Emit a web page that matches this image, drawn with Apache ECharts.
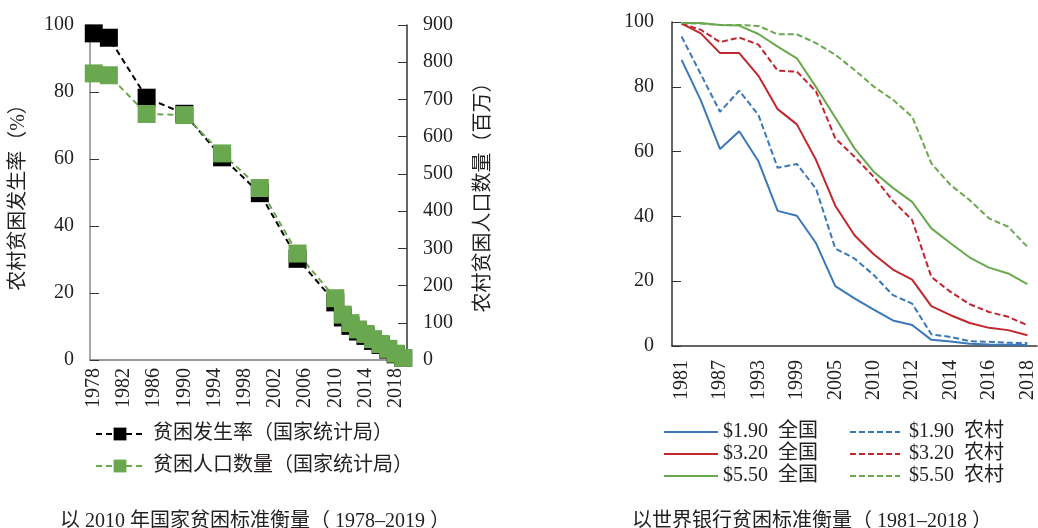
<!DOCTYPE html>
<html>
<head>
<meta charset="utf-8">
<script src="https://cdn.jsdelivr.net/npm/echarts@6/dist/echarts.min.js"></script>
<style>html,body{margin:0;padding:0;background:#fff}#main{width:1038px;height:528px}</style>
</head>
<body>
<div id="main"></div>
<script>
// left panel: national statistics bureau, 2010 standard
var allYears = ['1978','1979','1980','1981','1982','1983','1984','1985','1986','1987','1988','1989','1990',
  '1991','1992','1993','1994','1995','1996','1997','1998','1999','2000','2001','2002','2003','2004','2005',
  '2006','2007','2008','2009','2010','2011','2012','2013','2014','2015','2016','2017','2018','2019'];
var obsYears = ['1978','1980','1985','1990','1995','2000','2005','2010','2011','2012','2013','2014','2015','2016','2017','2018','2019'];
var incidence = [97.5, 96.2, 78.3, 73.5, 60.5, 49.8, 30.2, 17.2, 12.7, 10.2, 8.5, 7.2, 5.7, 4.5, 3.1, 1.7, 0.6];
var population = [770, 765, 661, 658, 555, 462, 286, 166, 122, 99, 82, 70, 56, 43, 30, 17, 5.5];

// right panel: world bank lines
var wbYears = ['1981','1984','1987','1990','1993','1996','1999','2002','2005','2008','2010','2011','2012','2013','2014','2015','2016','2017','2018'];
var nat190 = [88.3, 75.8, 60.8, 66.3, 57.0, 41.7, 40.2, 31.7, 18.5, 14.7, 11.2, 7.9, 6.5, 1.9, 1.4, 0.7, 0.5, 0.4, 0.3];
var rur190 = [95.5, 83.9, 72.3, 78.8, 71.3, 55.0, 56.2, 48.5, 30.1, 27.0, 21.9, 15.7, 13.1, 3.6, 2.8, 1.5, 1.3, 1.0, 0.9];
var nat320 = [99.5, 96.5, 90.4, 90.4, 83.4, 73.1, 68.4, 57.4, 43.3, 34.2, 28.3, 23.6, 20.5, 12.3, 9.5, 7.1, 5.6, 4.9, 3.3];
var rur320 = [99.5, 97.6, 93.8, 95.2, 93.0, 85.0, 84.7, 78.5, 64.1, 58.4, 52.2, 44.8, 38.9, 21.3, 16.7, 12.9, 10.5, 9.0, 6.4];
var nat550 = [99.7, 99.7, 99.1, 98.9, 96.3, 92.4, 88.8, 79.9, 70.5, 61.0, 53.8, 48.8, 44.5, 36.3, 31.7, 27.3, 24.2, 22.4, 19.1];
var rur550 = [99.7, 99.5, 99.1, 99.1, 98.8, 96.2, 96.2, 93.5, 89.9, 85.2, 80.1, 76.0, 70.8, 56.4, 49.7, 45.0, 39.4, 36.8, 30.6];

var FONT = "'Liberation Serif', 'Noto Sans CJK SC', serif";
var TXT = '#231f20';
var BLUE = '#3a78b8', RED = '#c1272d', GREEN = '#6aa84f';

function pairs(xs, ys) {
    return xs.map(function (x, i) { return [x, ys[i]]; });
}

var myChart = echarts.init(document.getElementById('main'));

function wbLine(name, data, color, dashed) {
    return {
        name: name,
        type: 'line',
        xAxisIndex: 1,
        yAxisIndex: 2,
        data: data,
        symbol: 'none',
        color: color,
        lineStyle: { width: 2, color: color, type: dashed ? [6, 3] : 'solid' }
    };
}

option = {
    backgroundColor: '#fff',
    animation: false,
    textStyle: { fontFamily: FONT, color: TXT },
    title: [
        { text: '以 2010 年国家贫困标准衡量（ 1978–2019 ）', left: 250, top: 507, textAlign: 'center',
          textStyle: { fontFamily: FONT, fontWeight: 'normal', fontSize: 20, color: TXT } },
        { text: '以世界银行贫困标准衡量（ 1981–2018 ）', left: 807, top: 507, textAlign: 'center',
          textStyle: { fontFamily: FONT, fontWeight: 'normal', fontSize: 20, color: TXT } }
    ],
    legend: [
        {
            left: 90, top: 419, orient: 'vertical', itemWidth: 48, itemHeight: 16, itemGap: 12,
            data: ['贫困发生率（国家统计局）', '贫困人口数量（国家统计局）'],
            textStyle: { fontFamily: FONT, fontSize: 20, color: TXT, padding: [0, 0, 0, 4] }
        },
        {
            left: 658, top: 417, orient: 'vertical', itemWidth: 54, itemHeight: 14, itemGap: 2,
            data: ['$1.90  全国', '$3.20  全国', '$5.50  全国'],
            itemStyle: { opacity: 0 },
            textStyle: { fontFamily: FONT, fontSize: 20, color: TXT }
        },
        {
            left: 844, top: 417, orient: 'vertical', itemWidth: 50, itemHeight: 14, itemGap: 2,
            data: ['$1.90  农村', '$3.20  农村', '$5.50  农村'],
            itemStyle: { opacity: 0 },
            textStyle: { fontFamily: FONT, fontSize: 20, color: TXT, padding: [0, 0, 0, 4] }
        }
    ],
    grid: [
        { left: 90, top: 25, right: 631, bottom: 168 },
        { left: 672, top: 22, right: 1, bottom: 182 }
    ],
    xAxis: [
        {
            type: 'category', gridIndex: 0, data: allYears, boundaryGap: true,
            axisLine: { lineStyle: { color: '#777', width: 1.5 } },
            axisTick: { inside: true, interval: 3, alignWithLabel: true, length: 9, lineStyle: { color: '#333' } },
            axisLabel: { interval: 3, rotate: 90, margin: 8, fontSize: 20, color: TXT, fontFamily: FONT },
            splitLine: { show: false }
        },
        {
            type: 'category', gridIndex: 1, data: wbYears, boundaryGap: true,
            axisLine: { lineStyle: { color: '#333', width: 1.5 } },
            axisTick: { inside: true, interval: 1, alignWithLabel: true, length: 9, lineStyle: { color: '#333' } },
            axisLabel: { interval: 1, rotate: 90, margin: 14, fontSize: 20, color: TXT, fontFamily: FONT },
            splitLine: { show: false }
        }
    ],
    yAxis: [
        {
            type: 'value', gridIndex: 0, position: 'left', min: 0, max: 100, interval: 20,
            name: '农村贫困发生率（%）', nameLocation: 'middle', nameRotate: 90, nameGap: 61,
            nameTextStyle: { fontSize: 20, color: TXT, fontFamily: FONT },
            axisLine: { show: true, lineStyle: { color: '#888', width: 1.5 } },
            axisTick: { show: true, inside: true, length: 9, lineStyle: { color: '#333' } },
            axisLabel: { margin: 16, fontSize: 20, color: TXT, fontFamily: FONT },
            splitLine: { show: false }
        },
        {
            type: 'value', gridIndex: 0, position: 'right', min: 0, max: 900, interval: 100,
            name: '农村贫困人口数量（百万）', nameLocation: 'middle', nameRotate: 90, nameGap: 67,
            nameTextStyle: { fontSize: 20, color: TXT, fontFamily: FONT },
            axisLine: { show: true, lineStyle: { color: '#333', width: 1.5 } },
            axisTick: { show: true, inside: true, length: 9, lineStyle: { color: '#333' } },
            axisLabel: { margin: 16, fontSize: 20, color: TXT, fontFamily: FONT },
            splitLine: { show: false }
        },
        {
            type: 'value', gridIndex: 1, min: 0, max: 100, interval: 20,
            axisLine: { show: true, lineStyle: { color: '#333', width: 1.5 } },
            axisTick: { show: true, inside: true, length: 9, lineStyle: { color: '#333' } },
            axisLabel: { margin: 18, fontSize: 20, color: TXT, fontFamily: FONT },
            splitLine: { show: false }
        }
    ],
    series: [
        {
            name: '贫困发生率（国家统计局）',
            type: 'line', xAxisIndex: 0, yAxisIndex: 0,
            data: pairs(obsYears, incidence),
            symbol: 'rect', symbolSize: 18, showAllSymbol: true, color: '#000',
            itemStyle: { color: '#000' },
            lineStyle: { color: '#000', width: 2, type: [6, 4] }
        },
        {
            name: '贫困人口数量（国家统计局）',
            type: 'line', xAxisIndex: 0, yAxisIndex: 1,
            data: pairs(obsYears, population),
            symbol: 'rect', symbolSize: 18, showAllSymbol: true, color: GREEN,
            itemStyle: { color: GREEN },
            lineStyle: { color: GREEN, width: 2, type: [6, 4] }
        },
        wbLine('$1.90  全国', nat190, BLUE, false),
        wbLine('$1.90  农村', rur190, BLUE, true),
        wbLine('$3.20  全国', nat320, RED, false),
        wbLine('$3.20  农村', rur320, RED, true),
        wbLine('$5.50  全国', nat550, GREEN, false),
        wbLine('$5.50  农村', rur550, GREEN, true)
    ]
};
myChart.setOption(option);
</script>
</body>
</html>
